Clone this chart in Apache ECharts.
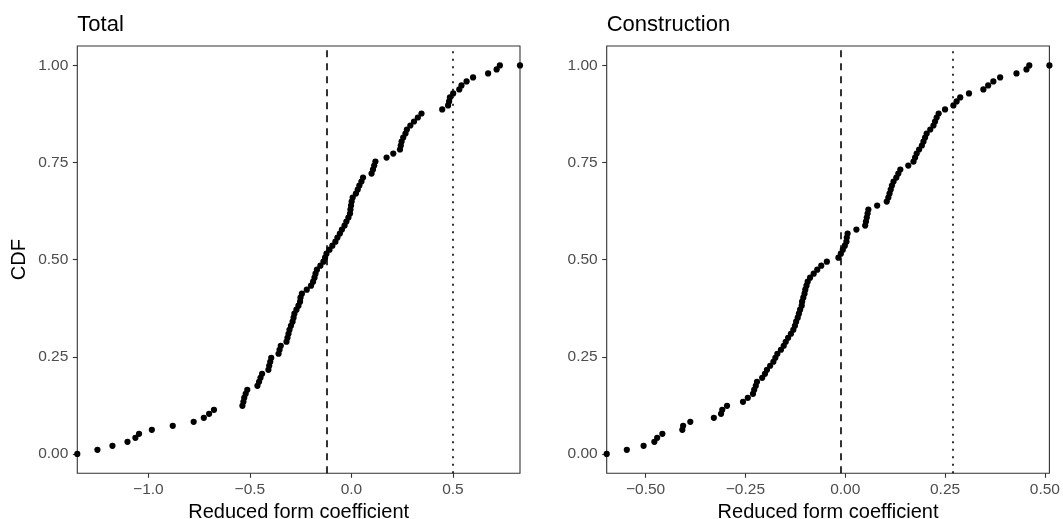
<!DOCTYPE html>
<html>
<head>
<meta charset="utf-8">
<script src="https://cdn.jsdelivr.net/npm/echarts@6/dist/echarts.min.js"></script>
<style>
  html, body { margin: 0; padding: 0; background: #fff; }
  #chart { width: 1063px; height: 519px; }
</style>
</head>
<body>
<div id="chart"></div>
<script>
// ---- Data (sorted coefficient estimates) ----
const panelTitles = ["Total", "Construction"];

const totalX = [
  -1.251, -1.177, -1.103, -1.064, -1.046, -0.983, -0.880, -0.777, -0.727, -0.701,
  -0.677, -0.537, -0.532, -0.528, -0.521, -0.513, -0.463, -0.455, -0.448, -0.440,
  -0.409, -0.405, -0.400, -0.395, -0.359, -0.354, -0.348, -0.320, -0.315, -0.310,
  -0.305, -0.298, -0.290, -0.285, -0.281, -0.271, -0.261, -0.253, -0.251, -0.244,
  -0.220, -0.199, -0.189, -0.182, -0.177, -0.170, -0.153, -0.138, -0.130, -0.123,
  -0.108, -0.094, -0.079, -0.069, -0.057, -0.047, -0.034, -0.025, -0.015, -0.007,
  -0.005, -0.002, 0.001, 0.006, 0.022, 0.031, 0.039, 0.049, 0.057, 0.099,
  0.106, 0.112, 0.118, 0.173, 0.206, 0.239, 0.243, 0.247, 0.255, 0.266,
  0.273, 0.290, 0.308, 0.327, 0.345, 0.447, 0.476, 0.481, 0.485, 0.501,
  0.531, 0.542, 0.567, 0.599, 0.673, 0.715, 0.731
];

const constructionX = [
  -0.547, -0.505, -0.478, -0.471, -0.458, -0.408, -0.406, -0.388, -0.329, -0.311,
  -0.308, -0.296, -0.256, -0.244, -0.231, -0.228, -0.224, -0.221, -0.208, -0.201,
  -0.196, -0.188, -0.180, -0.175, -0.170, -0.161, -0.154, -0.149, -0.143, -0.136,
  -0.130, -0.126, -0.123, -0.119, -0.116, -0.113, -0.109, -0.108, -0.105, -0.102,
  -0.100, -0.097, -0.094, -0.088, -0.079, -0.070, -0.060, -0.046, -0.017, -0.011,
  -0.006, -0.001, 0.003, 0.004, 0.006, 0.028, 0.050, 0.052, 0.054, 0.056,
  0.058, 0.080, 0.104, 0.108, 0.111, 0.114, 0.117, 0.121, 0.128, 0.133,
  0.138, 0.158, 0.171, 0.175, 0.179, 0.185, 0.192, 0.196, 0.200, 0.204,
  0.213, 0.221, 0.225, 0.229, 0.234, 0.250, 0.271, 0.279, 0.288, 0.310,
  0.346, 0.358, 0.371, 0.388, 0.429, 0.454, 0.461
];

// reference lines: [dashed, dotted]
const totalRefLines = [-0.124, 0.502];
const constructionRefLines = [-0.012, 0.271];

// tick values
const totalXTicks = [-1.0, -0.5, 0.0, 0.5];
const constructionXTicks = [-0.5, -0.25, 0.0, 0.25, 0.5];
const yTicks = [0, 0.25, 0.5, 0.75, 1];

// ---- Build ----
const FONT = "Liberation Sans, Arial, Helvetica, sans-serif";
const minus = s => s.replace(/-/g, "\u2212");

function ecdf(xs) {
  const s = xs.slice().sort((a, b) => a - b);
  const n = s.length;
  return s.map((v, i) => [v, (i + 1) / n]);
}
function range(xs) {
  const lo = Math.min(...xs), hi = Math.max(...xs);
  const pad = (hi - lo) * 0.05;
  return [lo - pad, hi + pad];
}

const panels = [
  { xs: totalX, lines: totalRefLines, ticks: totalXTicks, dec: 1, left: 77.3 },
  { xs: constructionX, lines: constructionRefLines, ticks: constructionXTicks, dec: 2, left: 606.7 }
];
const gridW = 442.7, gridTop = 46, gridH = 427.3;

const grids = [], xAxes = [], yAxes = [], series = [], titles = [];
panels.forEach((p, k) => {
  const [lo, hi] = range(p.xs);
  grids.push({
    left: p.left, top: gridTop, width: gridW, height: gridH,
    containLabel: false, outerBoundsMode: "none",
    show: true, borderColor: "#333333", borderWidth: 1.1, backgroundColor: "#ffffff"
  });
  titles.push({
    text: panelTitles[k], left: p.left, top: 14, padding: 0,
    textStyle: { fontFamily: FONT, fontSize: 22, fontWeight: "normal", color: "#000" }
  });
  xAxes.push({
    type: "value", gridIndex: k, min: lo, max: hi, position: "bottom",
    name: "Reduced form coefficient", nameLocation: "middle", nameGap: 24,
    nameTextStyle: { fontFamily: FONT, fontSize: 20, color: "#000" },
    axisLine: { show: false, onZero: false },
    axisTick: { show: true, inside: false, length: 4.5, customValues: p.ticks, lineStyle: { color: "#333", width: 1.1 } },
    axisLabel: {
      customValues: p.ticks, margin: 8, fontFamily: FONT, fontSize: 15.5, color: "#4D4D4D",
      formatter: v => minus(Number(v).toFixed(p.dec))
    },
    splitLine: { show: false }
  });
  yAxes.push({
    type: "value", gridIndex: k, min: -0.05, max: 1.05, position: "left",
    name: k === 0 ? "CDF" : "", nameLocation: "middle", nameGap: 48, nameRotate: 90,
    nameTextStyle: { fontFamily: FONT, fontSize: 20, color: "#000" },
    axisLine: { show: false, onZero: false },
    axisTick: { show: true, inside: false, length: 4.5, customValues: yTicks, lineStyle: { color: "#333", width: 1.1 } },
    axisLabel: {
      customValues: yTicks, margin: 9, fontFamily: FONT, fontSize: 15.5, color: "#4D4D4D",
      formatter: v => Number(v).toFixed(2)
    },
    splitLine: { show: false }
  });
  const pts = [[lo, 0]].concat(ecdf(p.xs)).concat([[hi, 1]]);
  series.push({
    type: "scatter", xAxisIndex: k, yAxisIndex: k, data: pts,
    symbol: "circle", symbolSize: 6.2, clip: true,
    itemStyle: { color: "#000", opacity: 1 },
    silent: true, animation: false,
    markLine: {
      silent: true, symbol: "none", animation: false,
      label: { show: false },
      data: [
        { xAxis: p.lines[0], lineStyle: { type: [7, 6], color: "#000", width: 1.6 } },
        { xAxis: p.lines[1], lineStyle: { type: [2, 5.5], color: "#000", width: 1.6 } }
      ]
    }
  });
});

const chart = echarts.init(document.getElementById("chart"), null, { renderer: "canvas" });
chart.setOption({
  backgroundColor: "#ffffff",
  animation: false,
  title: titles,
  grid: grids,
  xAxis: xAxes,
  yAxis: yAxes,
  series: series
});
</script>
</body>
</html>
